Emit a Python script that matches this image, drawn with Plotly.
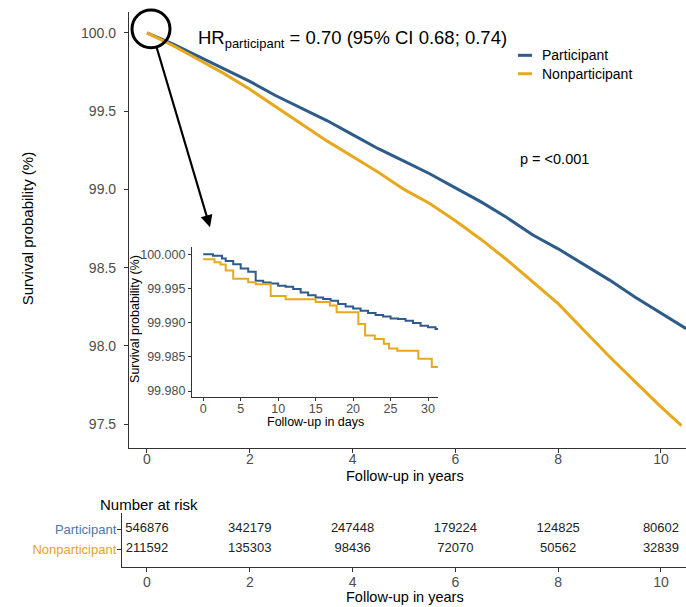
import plotly.graph_objects as go

W, H = 686, 607
FONT = "Liberation Sans, Arial, sans-serif"
BLUE = "#2D5B8A"
ORANGE = "#E8A81C"
TICKGREY = "#4d4d4d"
AXCOL = "#333333"

# ---- main KM curves (years, survival %) ----
years_part = [0.0, 0.5, 1.0, 1.5, 2.0, 2.5, 3.0, 3.5, 4.0, 4.5, 5.0, 5.5, 6.0, 6.5, 7.0, 7.5, 8.0, 8.5, 9.0, 9.5, 10.0, 10.49]
surv_part = [100.00, 99.93, 99.85, 99.77, 99.69, 99.60, 99.52, 99.44, 99.35, 99.26, 99.18, 99.10, 99.01, 98.92, 98.82, 98.71, 98.62, 98.52, 98.42, 98.31, 98.21, 98.11]
years_non = [0.0, 0.5, 1.0, 1.5, 2.0, 2.5, 3.0, 3.5, 4.0, 4.5, 5.0, 5.5, 6.0, 6.5, 7.0, 7.5, 8.0, 8.5, 9.0, 9.5, 10.0, 10.4]
surv_non = [100.00, 99.92, 99.83, 99.74, 99.64, 99.53, 99.42, 99.31, 99.21, 99.11, 99.00, 98.91, 98.80, 98.68, 98.55, 98.41, 98.27, 98.10, 97.93, 97.77, 97.61, 97.49]

# ---- inset (days, survival %) ----
days_part = [0, 1.3, 2.5, 3, 4, 5, 6, 7, 8, 9, 10, 11, 12, 13, 14, 15, 16, 17, 18, 19, 20, 21, 22, 23, 24, 25, 26, 27, 28, 29, 30, 31, 31.4]
inset_part = [100.0000, 99.99976, 99.99937, 99.9990, 99.99854, 99.9979, 99.99742, 99.9961, 99.99586, 99.9957, 99.99538,
              99.99523, 99.9949, 99.9944, 99.99401, 99.99367, 99.99343, 99.9932, 99.9927, 99.99236, 99.99207, 99.99173,
              99.99139, 99.9911, 99.9909, 99.9906, 99.99051, 99.99027, 99.98993, 99.98954, 99.9893, 99.98905, 99.9889]
days_non = [0, 1.5, 2.3, 3.0, 4.0, 6.0, 7.0, 9.0, 11.0, 15.0, 16.9, 17.8, 20.7, 21.6, 22.9, 24.1, 24.8, 25.9, 28.7, 30.5, 31.4]
inset_non = [99.99927, 99.9988, 99.9985, 99.9976, 99.9964, 99.9959, 99.9956, 99.9939, 99.9934, 99.9930, 99.9925,
             99.9915, 99.9898, 99.9881, 99.9876, 99.9869, 99.9862, 99.9859, 99.9847, 99.9835, 99.9835]

# ---- number at risk ----
risk_times = [0, 2, 4, 6, 8, 10]
risk_part = [546876, 342179, 247448, 179224, 124825, 80602]
risk_non = [211592, 135303, 98436, 72070, 50562, 32839]
groups = ["Participant", "Nonparticipant"]

def px(x):
    return x / W

def py(y):
    return 1 - y / H

fig = go.Figure()
fig.add_trace(go.Scatter(x=years_part, y=surv_part, mode="lines", line=dict(color=BLUE, width=3),
                         name="Participant", xaxis="x", yaxis="y"))
fig.add_trace(go.Scatter(x=years_non, y=surv_non, mode="lines", line=dict(color=ORANGE, width=3),
                         name="Nonparticipant", xaxis="x", yaxis="y"))
fig.add_trace(go.Scatter(x=days_part, y=inset_part, mode="lines", line=dict(color=BLUE, width=2, shape="hv"),
                         xaxis="x2", yaxis="y2", showlegend=False))
fig.add_trace(go.Scatter(x=days_non, y=inset_non, mode="lines", line=dict(color=ORANGE, width=2, shape="hv"),
                         xaxis="x2", yaxis="y2", showlegend=False))
fig.add_trace(go.Scatter(x=risk_times + risk_times, y=[1] * len(risk_times) + [0] * len(risk_times),
                         text=[str(v) for v in risk_part + risk_non], mode="text",
                         textfont=dict(family=FONT, size=13, color="#222222"),
                         xaxis="x3", yaxis="y3", showlegend=False))

axis_common = dict(showline=True, linecolor=AXCOL, linewidth=1.2, ticks="outside", ticklen=4,
                   tickcolor=AXCOL, showgrid=False, zeroline=False)

fig.update_layout(
    width=W, height=H, margin=dict(l=0, r=0, t=0, b=0),
    paper_bgcolor="white", plot_bgcolor="white", showlegend=False,
    font=dict(family=FONT, color="#000000"),
    xaxis=dict(domain=[px(129), 1.0], range=[-0.35, 10.487], anchor="y", tickvals=[0, 2, 4, 6, 8, 10],
               tickfont=dict(size=14, color=TICKGREY), ticklabelstandoff=-5, **axis_common),
    yaxis=dict(domain=[py(449), py(12)], range=[97.35, 100.134], anchor="x",
               tickvals=[97.5, 98.0, 98.5, 99.0, 99.5, 100.0], tickformat=".1f",
               tickfont=dict(size=14, color=TICKGREY), ticklabelstandoff=5, **axis_common),
    xaxis2=dict(domain=[px(192), px(438)], range=[-1.5, 31.33], anchor="y2",
                tickvals=[0, 5, 10, 15, 20, 25, 30], tickfont=dict(size=12.5, color=TICKGREY),
                ticklabelstandoff=-3, **{**axis_common, "ticklen": 3}),
    yaxis2=dict(domain=[py(398), py(248)], range=[99.97917, 100.00102], anchor="x2",
                tickvals=[99.98, 99.985, 99.99, 99.995, 100.0], tickformat=".3f",
                tickfont=dict(size=12.5, color=TICKGREY), **{**axis_common, "ticklen": 3}),
    xaxis3=dict(domain=[px(122), 1.0], range=[-0.486, 10.487], anchor="y3", tickvals=[0, 2, 4, 6, 8, 10],
                tickfont=dict(size=14, color=TICKGREY), ticklabelstandoff=-2, **axis_common),
    yaxis3=dict(domain=[py(569), py(515)], range=[-0.9, 1.8], anchor="x3", tickvals=[1, 0],
                ticktext=[f"<span style='color:#4A78A8'>{groups[0]}</span>",
                          f"<span style='color:#E3A22A'>{groups[1]}</span>"],
                tickfont=dict(size=13), ticklabelstandoff=-2, **axis_common),
)

ann = []
def A(text, x, y, size, xanchor="center", yanchor="middle", angle=0, color="#000000"):
    ann.append(dict(text=text, x=px(x), y=py(y), xref="paper", yref="paper", showarrow=False,
                    xanchor=xanchor, yanchor=yanchor, textangle=angle,
                    font=dict(family=FONT, size=size, color=color)))

A("Survival probability (%)", 27, 230, 15, angle=-90)
A("Follow-up in years", 405, 478, 14.5)
A("Survival probability (%)", 135, 320, 12.5, angle=-90)
A("Follow-up in days", 315, 423, 12.5)
A("Follow-up in years", 405, 599, 14.5)
A("Number at risk", 98, 506, 15, xanchor="left")
A("HR<sub>participant</sub> = 0.70 (95% CI 0.68; 0.74)", 196, 39, 18.5, xanchor="left")
A("p = &lt;0.001", 518, 160, 14.5, xanchor="left")
A("Participant", 540, 55.5, 14, xanchor="left")
A("Nonparticipant", 540, 74, 14, xanchor="left")

# arrow from zoom circle to inset
ann.append(dict(text="", x=px(210), y=py(228), xref="paper", yref="paper", showarrow=True,
                ax=-54, ay=-182, arrowhead=2, arrowsize=1.1, arrowwidth=2.2, arrowcolor="#000000"))
fig.update_layout(annotations=ann)

shapes = [
    dict(type="circle", xref="paper", yref="paper", x0=px(132), x1=px(170), y0=py(48), y1=py(10),
         line=dict(color="#000000", width=3)),
    dict(type="line", xref="paper", yref="paper", x0=px(518), x1=px(532), y0=py(55.5), y1=py(55.5),
         line=dict(color=BLUE, width=3)),
    dict(type="line", xref="paper", yref="paper", x0=px(518), x1=px(532), y0=py(74), y1=py(74),
         line=dict(color=ORANGE, width=3)),
]
fig.update_layout(shapes=shapes)

fig.write_html("out.html")
